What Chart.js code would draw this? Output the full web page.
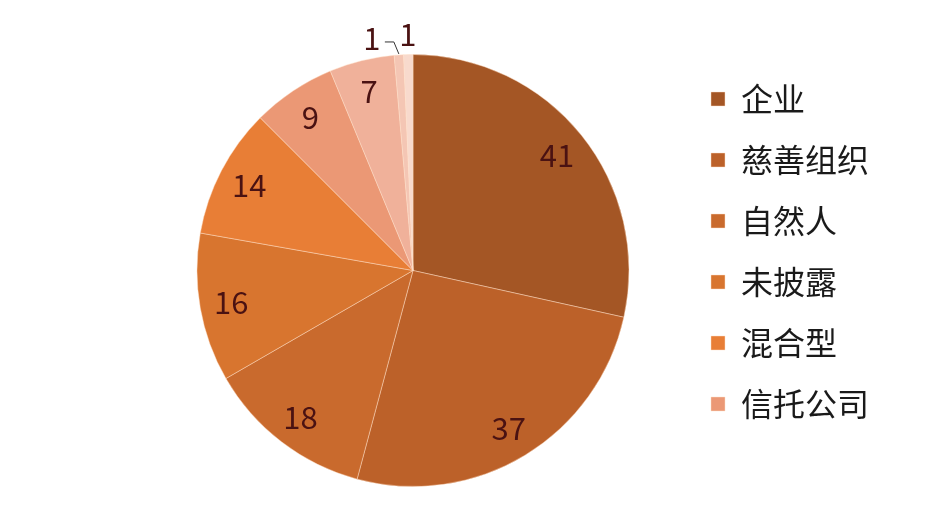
<!DOCTYPE html>
<html>
<head>
<meta charset="utf-8">
<script src="https://cdn.jsdelivr.net/npm/chart.js@4"></script>
<style>
  html, body { margin: 0; padding: 0; background: #fff; }
  #wrap { width: 932px; height: 531px; }
</style>
</head>
<body>
<div id="wrap"><canvas id="chart" width="932" height="531"></canvas></div>
<script>
// Legend names (only the first six are named in the legend)
const categories = ["企业", "慈善组织", "自然人", "未披露", "混合型", "信托公司"];
// Slice values, clockwise from 12 o'clock
const counts = [41, 37, 18, 16, 14, 9, 7, 1, 1];

const sliceColors = [
  "#a45625", "#bc6129", "#c96a2d", "#d8752f", "#e87e36",
  "#eb9875", "#f0b19a", "#f4c6b4", "#f8dacd"
];

const FONT = "'Noto Sans CJK SC', 'Noto Sans', sans-serif";

// Value labels: inside the slice, or outside with a leader line for tiny ones
const valueLabels = {
  id: "valueLabels",
  afterDatasetsDraw(chart) {
    const ctx = chart.ctx;
    const meta = chart.getDatasetMeta(0);
    const total = counts.reduce((a, b) => a + b, 0);
    const small = [];
    meta.data.forEach((arc, i) => {
      if (counts[i] / total < 0.02) small.push(i);
    });

    ctx.save();
    ctx.font = "31px " + FONT;
    ctx.fillStyle = "#4a1212";
    ctx.textAlign = "center";
    ctx.textBaseline = "middle";

    meta.data.forEach((arc, i) => {
      const p = arc.getProps(["x", "y", "startAngle", "endAngle", "outerRadius"], true);
      const mid = (p.startAngle + p.endAngle) / 2;
      const r = p.outerRadius;
      const k = small.indexOf(i);
      if (k === -1) {
        ctx.fillText(String(counts[i]), p.x + Math.cos(mid) * r * 0.855, p.y + Math.sin(mid) * r * 0.855);
      } else if (k === small.length - 1) {
        ctx.fillText(String(counts[i]), p.x + Math.cos(mid) * (r + 20), p.y + Math.sin(mid) * (r + 20));
      } else {
        const ex = p.x + Math.cos(mid) * r;
        const ey = p.y + Math.sin(mid) * r;
        ctx.strokeStyle = "#333";
        ctx.lineWidth = 1;
        ctx.beginPath();
        ctx.moveTo(ex, ey - 1);
        ctx.lineTo(ex - 5, ey - 13);
        ctx.lineTo(ex - 14, ey - 13);
        ctx.stroke();
        ctx.fillText(String(counts[i]), ex - 27, ey - 17);
      }
    });
    ctx.restore();
  }
};

new Chart(document.getElementById("chart"), {
  type: "pie",
  data: {
    labels: categories,
    datasets: [{
      data: counts,
      backgroundColor: sliceColors,
      borderColor: "rgba(255,225,200,0.45)",
      borderWidth: 1
    }]
  },
  options: {
    responsive: false,
    animation: false,
    layout: { padding: { top: 54, bottom: 44, left: 144, right: 53 } },
    plugins: {
      tooltip: { enabled: false },
      legend: {
        position: "right",
        align: "start",
        labels: {
          boxWidth: 14,
          boxHeight: 14,
          padding: 29,
          color: "#1a1a1a",
          font: { size: 32, family: FONT }
        }
      }
    }
  },
  plugins: [valueLabels]
});
</script>
</body>
</html>
